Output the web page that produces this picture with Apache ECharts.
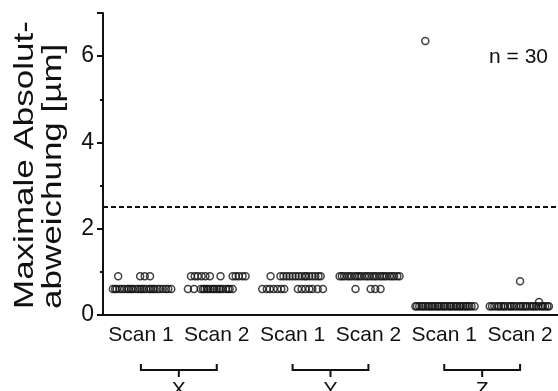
<!DOCTYPE html>
<html><head><meta charset="utf-8">
<script src="https://cdn.jsdelivr.net/npm/echarts@6/dist/echarts.min.js"></script>
<style>html,body{margin:0;padding:0;background:#fff}#c{width:558px;height:391px}</style>
</head><body><div id="c"></div>
<script>
// ---- data ----
const categories = ['Scan 1','Scan 2','Scan 1','Scan 2','Scan 1','Scan 2'];
const groups = ['X','Y','Z'];
const yTicks = [0,2,4,6];
const threshold = 2.5;
const nLabel = 'n = 30';
const yTitle = 'Maximale Absolut-\nabweichung [µm]';

const xScan1Values = [0.9,0.9,0.9,0.9,
  0.6,0.6,0.6,0.6,0.6,0.6,0.6,0.6,0.6,0.6,0.6,0.6,0.6,0.6,0.6,0.6,0.6,0.6,0.6,0.6,0.6,0.6,0.6,0.6,0.6,0.6];
const xScan1Jitter = [-0.30,-0.01,0.05,0.12,
  -0.37,-0.34,-0.32,-0.28,-0.25,-0.22,-0.18,-0.16,-0.13,-0.11,-0.07,-0.04,-0.01,0.01,0.04,0.07,0.11,0.13,0.16,0.18,0.22,0.25,0.29,0.33,0.36,0.40];

const xScan2Values = [0.9,0.9,0.9,0.9,0.9,0.9,0.9,0.9,0.9,0.9,0.9,0.9,
  0.6,0.6,0.6,0.6,0.6,0.6,0.6,0.6,0.6,0.6,0.6,0.6,0.6,0.6,0.6,0.6,0.6,0.6];
const xScan2Jitter = [-0.34,-0.29,-0.25,-0.20,-0.15,-0.09,0.05,0.21,0.25,0.29,0.34,0.38,
  -0.38,-0.30,-0.21,-0.18,-0.16,-0.13,-0.11,-0.08,-0.05,-0.03,0,0.03,0.05,0.08,0.12,0.15,0.17,0.21];

const yScan1Values = [0.9,0.9,0.9,0.9,0.9,0.9,0.9,0.9,0.9,0.9,0.9,0.9,0.9,0.9,0.9,0.9,
  0.6,0.6,0.6,0.6,0.6,0.6,0.6,0.6,0.6,0.6,0.6,0.6,0.6,0.6];
const yScan1Jitter = [-0.29,-0.16,-0.12,-0.08,-0.04,0,0.04,0.08,0.12,0.16,0.18,0.22,0.26,0.30,0.34,0.37,
  -0.40,-0.34,-0.30,-0.25,-0.20,-0.15,-0.11,0.07,0.12,0.17,0.22,0.26,0.33,0.40];

const yScan2Values = [6.35,
  0.9,0.9,0.9,0.9,0.9,0.9,0.9,0.9,0.9,0.9,0.9,0.9,0.9,0.9,0.9,0.9,0.9,0.9,0.9,0.9,0.9,0.9,0.9,0.9,0.9,
  0.6,0.6,0.6,0.6];
const yScan2Jitter = [0.75,
  -0.38,-0.35,-0.32,-0.28,-0.25,-0.22,-0.18,-0.15,-0.12,-0.09,-0.05,-0.02,0.01,0.05,0.08,0.11,0.15,0.18,0.21,0.24,0.28,0.31,0.34,0.38,0.41,
  -0.17,0.03,0.09,0.16];

const zScan1Values = [0.2,0.2,0.2,0.2,0.2,0.2,0.2,0.2,0.2,0.2,0.2,0.2,0.2,0.2,0.2,
  0.2,0.2,0.2,0.2,0.2,0.2,0.2,0.2,0.2,0.2,0.2,0.2,0.2,0.2,0.2];
const zScan1Jitter = [-0.38,-0.36,-0.33,-0.30,-0.28,-0.25,-0.22,-0.20,-0.17,-0.15,-0.12,-0.09,-0.07,-0.04,-0.01,
  0.01,0.04,0.07,0.09,0.12,0.15,0.17,0.20,0.22,0.25,0.28,0.30,0.33,0.36,0.40];

const zScan2Values = [0.78,0.3,
  0.2,0.2,0.2,0.2,0.2,0.2,0.2,0.2,0.2,0.2,0.2,0.2,0.2,0.2,
  0.2,0.2,0.2,0.2,0.2,0.2,0.2,0.2,0.2,0.2,0.2,0.2,0.2,0.2];
const zScan2Jitter = [0,0.25,
  -0.40,-0.37,-0.34,-0.30,-0.28,-0.25,-0.22,-0.20,-0.16,-0.13,-0.11,-0.08,-0.05,-0.01,
  0.01,0.04,0.07,0.09,0.13,0.16,0.18,0.21,0.24,0.28,0.30,0.33,0.36,0.38];

const allValues = [xScan1Values,xScan2Values,yScan1Values,yScan2Values,zScan1Values,zScan2Values];
const allJitter = [xScan1Jitter,xScan2Jitter,yScan1Jitter,yScan2Jitter,zScan1Jitter,zScan2Jitter];

// ---- build ----
const FONT = 'Liberation Sans, Arial, sans-serif';
const INK = '#111';
const points = [];
allValues.forEach((vals, ci) => vals.forEach((v, i) => points.push([ci + allJitter[ci][i], v])));

const chart = echarts.init(document.getElementById('c'), null, {renderer: 'canvas'});
chart.setOption({
  animation: false,
  title: {text: nLabel, right: 5, top: 42, textStyle: {fontFamily: FONT, fontSize: 21, fontWeight: 'normal', color: INK}},
  grid: {left: 103, right: 0, top: 13, bottom: 76, containLabel: false},
  graphic: [{
    type: 'text', x: 39, y: 309, rotation: Math.PI / 2, scaleX: 1.25, scaleY: 1,
    style: {text: yTitle, fontFamily: FONT, fontSize: 28, lineHeight: 28, fill: INK,
            align: 'left', verticalAlign: 'middle'}
  }],
  xAxis: [
    {type: 'category', data: categories, position: 'bottom',
     axisLine: {lineStyle: {color: INK, width: 2}},
     axisTick: {alignWithLabel: true, length: 7, lineStyle: {color: INK, width: 2}},
     axisLabel: {fontFamily: FONT, fontSize: 21, color: INK, margin: 10, interval: 0},
     splitLine: {show: false}},
    {type: 'value', min: -0.5, max: 5.5, show: false}
  ],
  yAxis: {type: 'value', min: 0, max: 7, interval: 2,
    axisLine: {show: true, onZero: false, lineStyle: {color: INK, width: 2}},
    axisTick: {show: true, length: 6, lineStyle: {color: INK, width: 2}},
    minorTick: {show: true, splitNumber: 2, length: 3, lineStyle: {color: INK, width: 2}},
    axisLabel: {fontFamily: FONT, fontSize: 23, color: INK, margin: 9,
      formatter: v => (yTicks.indexOf(v) >= 0 ? String(v) : '')},
    splitLine: {show: false}},
  series: [
    {type: 'scatter', xAxisIndex: 1, data: points, symbol: 'circle', symbolSize: 7,
     itemStyle: {color: 'rgba(255,255,255,0)', borderColor: INK, borderWidth: 1.5},
     markLine: {silent: true, symbol: 'none', label: {show: false},
       lineStyle: {color: INK, type: [5, 3], width: 2},
       data: [{yAxis: threshold}]}},
    {type: 'custom', xAxisIndex: 1, clip: false, data: groups.map((g, i) => [i]),
     renderItem: function (params, api) {
       const g = api.value(0);
       const a = api.coord([2 * g, 0]);
       const b = api.coord([2 * g + 1, 0]);
       const y = a[1] + 55;
       const mid = (a[0] + b[0]) / 2;
       const st = {stroke: INK, lineWidth: 2, fill: null};
       return {type: 'group', children: [
         {type: 'polyline', shape: {points: [[a[0], y - 6], [a[0], y], [b[0], y], [b[0], y - 6]]}, style: st},
         {type: 'line', shape: {x1: mid, y1: y, x2: mid, y2: y + 7}, style: st},
         {type: 'text', x: mid, y: y + 10, style: {text: groups[g], fontFamily: FONT, fontSize: 21,
           fill: INK, align: 'center', verticalAlign: 'top'}}
       ]};
     }}
  ]
});
</script></body></html>
